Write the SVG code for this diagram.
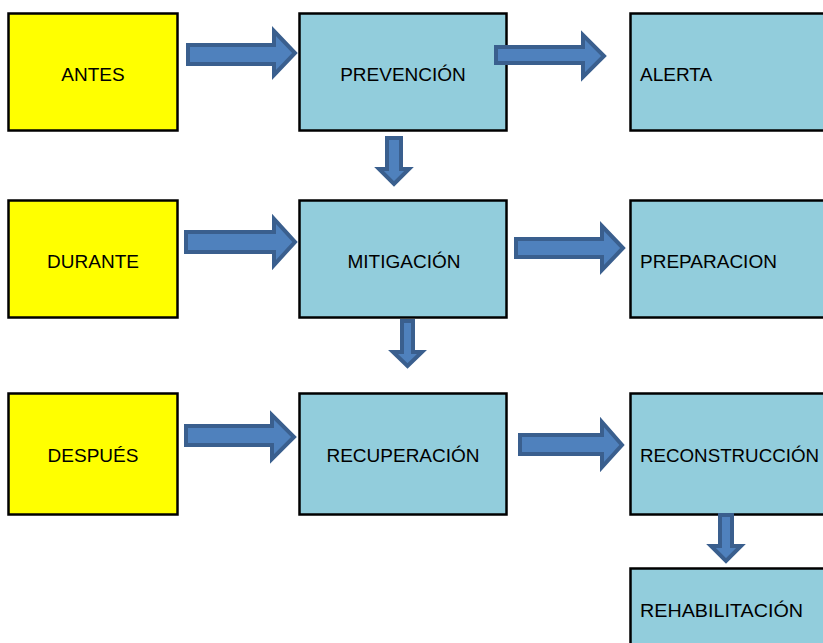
<svg xmlns="http://www.w3.org/2000/svg" width="823" height="643" viewBox="0 0 823 643">
<style>
.y{fill:#FFFF00;stroke:#000;stroke-width:2.5}
.b{fill:#92CDDC;stroke:#000;stroke-width:2.5}
text{font-family:"Liberation Sans",Arial,sans-serif;font-size:19px;fill:#000}
.c{text-anchor:middle}
.arr polygon{fill:#4F81BD;stroke:#3A5F8E;stroke-width:4;stroke-linejoin:miter}
.arr line{stroke:#5B8ED0;stroke-width:6}
</style>
<rect width="823" height="643" fill="#fff"/>
<g id="antes"><rect class="y" x="8.5" y="13.5" width="169" height="117"/><text class="c" x="93" y="81">ANTES</text></g>
<g id="prevencion"><rect class="b" x="299.5" y="13.5" width="207" height="117"/><text class="c" x="403" y="81">PREVENCIÓN</text></g>
<g id="alerta"><rect class="b" x="630.5" y="13.5" width="200" height="117"/><text x="640" y="81">ALERTA</text></g>
<g id="durante"><rect class="y" x="8.5" y="200.5" width="169" height="117"/><text class="c" x="93" y="268">DURANTE</text></g>
<g id="mitigacion"><rect class="b" x="299.5" y="200.5" width="207" height="117"/><text class="c" x="404" y="268">MITIGACIÓN</text></g>
<g id="preparacion"><rect class="b" x="630.5" y="200.5" width="200" height="117"/><text x="640" y="268">PREPARACION</text></g>
<g id="despues"><rect class="y" x="8.5" y="393.5" width="169" height="121"/><text class="c" x="93" y="462">DESPUÉS</text></g>
<g id="recuperacion"><rect class="b" x="299.5" y="393.5" width="207" height="121"/><text class="c" x="403" y="462">RECUPERACIÓN</text></g>
<g id="reconstruccion"><rect class="b" x="630.5" y="393.5" width="200" height="121"/><text x="640" y="462" textLength="179" lengthAdjust="spacingAndGlyphs">RECONSTRUCCIÓN</text></g>
<g id="rehabilitacion"><rect class="b" x="630.5" y="568.5" width="200" height="100"/><text x="640" y="617" textLength="163" lengthAdjust="spacingAndGlyphs">REHABILITACIÓN</text></g>
<g id="connectors" class="arr">
<polygon points="188,45 274,45 274,31 295,53 274,75 274,64 188,64"/>
<polygon points="496,47 583,47 583,35 604,56 583,77 583,63 496,63"/>
<polygon points="186,232 274,232 274,219 295,242 274,265 274,252 186,252"/>
<polygon points="516,239 602,239 602,226 623,248 602,270 602,257 516,257"/>
<polygon points="186,426 272,426 272,415 294,437 272,459 272,445 186,445"/>
<polygon points="520,435 602,435 602,422 622,445 602,467 602,454 520,454"/>
<polygon points="387,138 401,138 401,169 409,169 394,184 379,169 387,169"/>
<polygon points="402,321 413,321 413,352 422,352 407.5,366 393,352 402,352"/>
<polygon points="720,515 732,515 732,546 741,546 726,561 711,546 720,546"/>
</g>
</svg>
